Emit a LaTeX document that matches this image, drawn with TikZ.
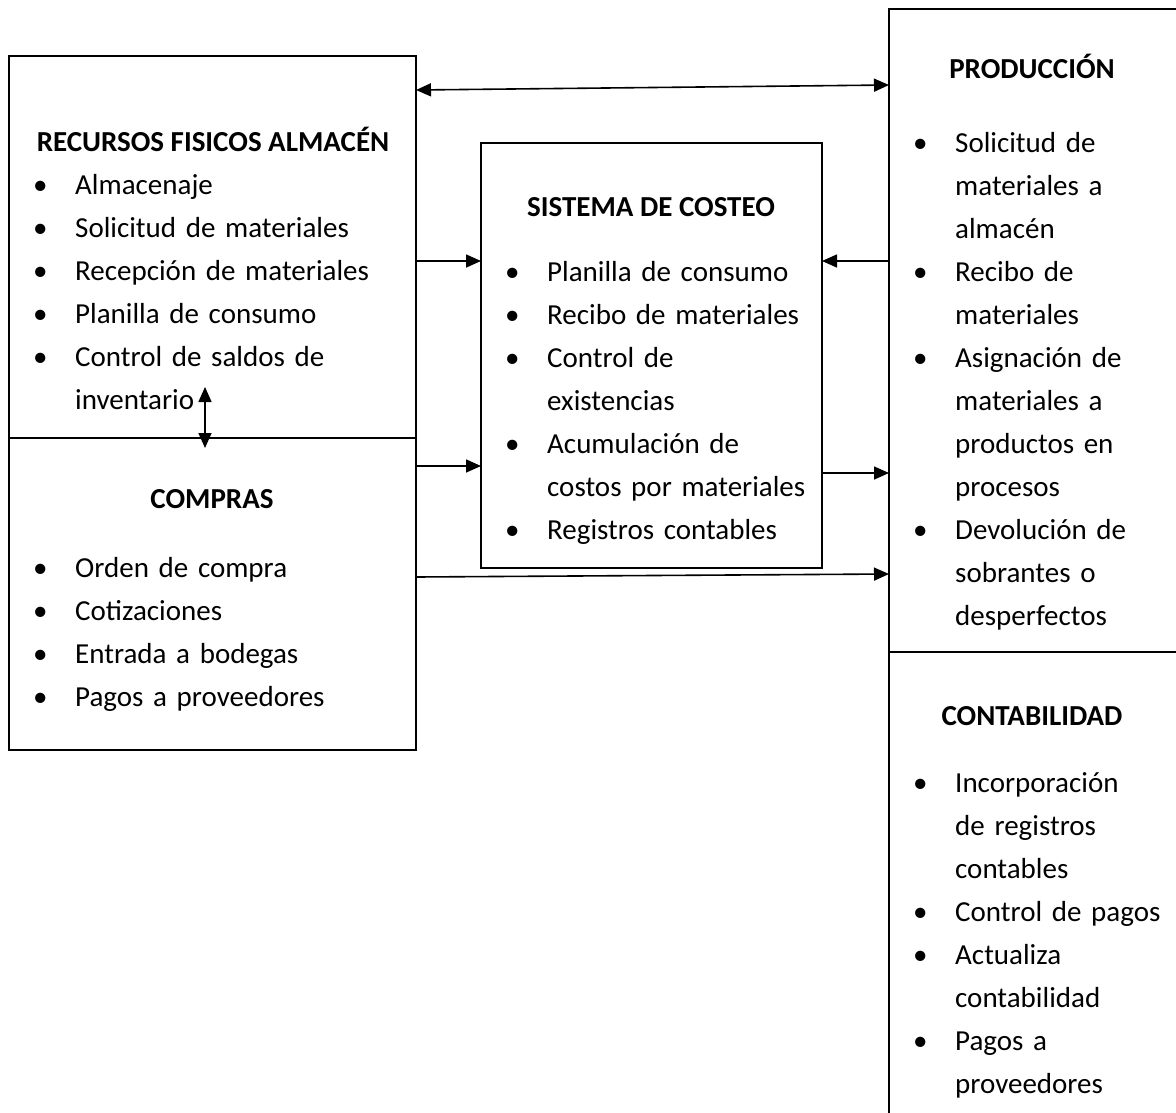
\documentclass[tikz,border=0pt]{standalone}
\usepackage{fontspec}
\setmainfont{Carlito}
\usetikzlibrary{arrows.meta}

\newcommand{\tam}{\fontsize{29}{43}\selectfont}
\newcommand{\tamlista}{\tam\hyphenpenalty=10000\relax}
\newcommand{\elem}[1]{\noindent\makebox[39pt][l]{\hspace*{-3pt}\textbullet}#1\par}
\newcommand{\sigue}[1]{\noindent\hspace*{39pt}#1\par}

\tikzset{
  caja/.style={draw, line width=1.6pt, inner sep=0pt, outer sep=0pt, anchor=north west},
  titulo/.style={font=\tam\bfseries, anchor=base, inner sep=0pt},
  lista/.style={font=\tamlista, anchor=base west, text width=420pt, align=left, inner sep=0pt},
  flecha/.style={line width=1.6pt, -{Triangle[length=15pt, width=13pt]}},
  doble/.style={line width=1.6pt, {Triangle[length=15pt, width=13pt]}-{Triangle[length=15pt, width=13pt]}}
}

\begin{document}
\begin{tikzpicture}[x=1pt, y=-1pt]
    \path[use as bounding box, clip] (0,0) rectangle (1176,1112);

    % Boxes
    \node[caja, minimum width=407pt, minimum height=382pt] (almacen) at (9,56) {};
    \node[caja, minimum width=407pt, minimum height=312pt] (compras) at (9,438) {};
    \node[caja, minimum width=341pt, minimum height=425pt] (costeo) at (481,143) {};
    \node[caja, minimum width=320pt, minimum height=643pt] (produccion) at (889,9) {};
    \node[caja, minimum width=320pt, minimum height=500pt] (contab) at (889,652) {};

    % Recursos fisicos almacen
    \node[titulo] (tAlmacen) at (213,151) {RECURSOS FISICOS ALMACÉN};
    \node[lista] (lAlmacen) at (36,194) {%
      \elem{Almacenaje}%
      \elem{Solicitud de materiales}%
      \elem{Recepción de materiales}%
      \elem{Planilla de consumo}%
      \elem{Control de saldos de}%
      \sigue{inventario}};

    % Compras
    \node[titulo] (tCompras) at (212,508) {COMPRAS};
    \node[lista] (lCompras) at (36,577) {%
      \elem{Orden de compra}%
      \elem{Cotizaciones}%
      \elem{Entrada a bodegas}%
      \elem{Pagos a proveedores}};

    % Sistema de costeo
    \node[titulo] (tCosteo) at (651,216) {SISTEMA DE COSTEO};
    \node[lista] (lCosteo) at (508,281) {%
      \elem{Planilla de consumo}%
      \elem{Recibo de materiales}%
      \elem{Control de}%
      \sigue{existencias}%
      \elem{Acumulación de}%
      \sigue{costos por materiales}%
      \elem{Registros contables}};

    % Produccion
    \node[titulo] (tProduccion) at (1032,78) {PRODUCCIÓN};
    \node[lista] (lProduccion) at (916,152) {%
      \elem{Solicitud de}%
      \sigue{materiales a}%
      \sigue{almacén}%
      \elem{Recibo de}%
      \sigue{materiales}%
      \elem{Asignación de}%
      \sigue{materiales a}%
      \sigue{productos en}%
      \sigue{procesos}%
      \elem{Devolución de}%
      \sigue{sobrantes o}%
      \sigue{desperfectos}};

    % Contabilidad
    \node[titulo] (tContab) at (1032,725) {CONTABILIDAD};
    \node[lista] (lContab) at (916,792) {%
      \elem{Incorporación}%
      \sigue{de registros}%
      \sigue{contables}%
      \elem{Control de pagos}%
      \elem{Actualiza}%
      \sigue{contabilidad}%
      \elem{Pagos a}%
      \sigue{proveedores}};

    % Arrows
    \draw[doble] ([yshift=-34pt]almacen.north east) -- ([yshift=-76pt]produccion.north west);
    \draw[flecha] ([yshift=-205pt]almacen.north east) -- ([yshift=-118pt]costeo.north west);
    \draw[flecha] ([yshift=-28pt]compras.north east) -- ([yshift=-323pt]costeo.north west);
    \draw[flecha] ([yshift=-252pt]produccion.north west) -- ([yshift=-118pt]costeo.north east);
    \draw[flecha] ([yshift=-330pt]costeo.north east) -- ([yshift=-464pt]produccion.north west);
    \draw[flecha] ([yshift=-139pt]compras.north east) -- ([yshift=-565pt]produccion.north west);
    \draw[doble] ([xshift=196pt, yshift=51pt]almacen.south west) -- ([xshift=196pt, yshift=-10pt]compras.north west);
\end{tikzpicture}
\end{document}
